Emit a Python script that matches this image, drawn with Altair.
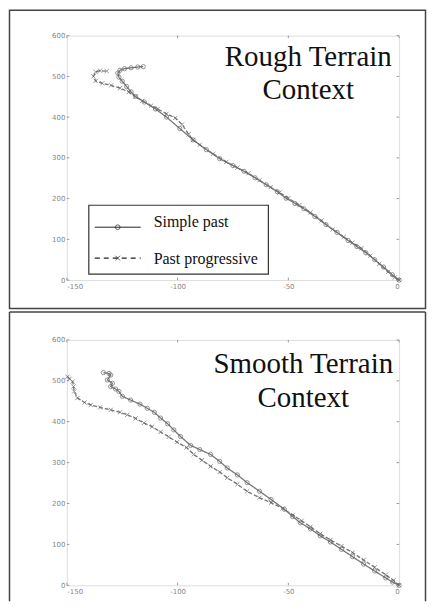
import altair as alt
import pandas as pd

# ---------------- data ----------------
series_names = ["Simple past", "Past progressive"]

rough_sp_x = [0, -3, -7, -11, -15, -19, -23, -28, -33, -38, -43, -47, -51, -55, -60, -65, -70, -75, -81, -87,
              -93, -99, -105, -110, -115, -119, -121, -123, -125, -126.5, -127, -126, -124, -121, -118, -115.5]
rough_sp_y = [0, 13, 32, 50, 67, 82, 97, 117, 136, 156, 175, 188, 201, 217, 234, 251, 267, 281, 298, 320,
              344, 372, 400, 420, 437, 451, 462, 475, 488, 498, 508, 515, 519, 521, 523, 524]

rough_pp_x = [0, -2, -5, -9, -13, -17, -21, -25, -30, -35, -40, -45, -50, -54, -58, -63, -68, -73, -78, -84,
              -90, -93, -95, -98, -101, -105, -109, -112, -116, -119, -122, -126, -130, -134, -137, -138, -137,
              -135, -132]
rough_pp_y = [0, 6, 20, 40, 60, 78, 92, 106, 124, 146, 166, 184, 201, 215, 228, 245, 262, 276, 290, 310,
              332, 344, 358, 382, 398, 408, 420, 428, 440, 450, 462, 471, 478, 483, 489, 500, 511, 514, 513]

smooth_sp_x = [-133.5, -131, -130.2, -131.7, -129.4, -130.2, -128, -126.5, -124.9, -121.2, -117, -113.7, -110.5,
               -107.7, -104.5, -101.7, -98.7, -94.1, -90, -85.1, -81, -77.6, -73, -68.6, -63, -57.8, -51.8, -48,
               -44.6, -40, -35.6, -31, -26, -21, -16, -11, -6, -2.9, 0]
smooth_sp_y = [520, 518, 514, 502, 494, 486, 480, 474, 462, 453, 443, 433, 423, 409, 395, 380, 364, 342, 332, 320,
               303, 287, 270, 251, 230, 210, 186, 168, 153, 138, 121, 106, 88, 70, 52, 35, 18, 8, 0]

smooth_pp_x = [-149.7, -148.8, -147.4, -147, -146.7, -145.2, -142, -139.2, -135, -130.2, -126, -122.7, -119,
               -115.2, -111.5, -107.7, -104, -100.2, -96, -92.7, -89, -85.1, -81, -77.6, -73, -68.6, -63, -57.8,
               -52.5, -48, -44, -40, -35.6, -31, -26, -21, -16, -11, -6, -2.5, 0]
smooth_pp_y = [510, 505, 498, 486, 474, 458, 447, 441, 435, 429, 423, 417, 408, 397, 388, 375, 363, 350, 337, 320,
               306, 291, 277, 263, 247, 230, 214, 202, 188, 172, 158, 143, 126, 111, 96, 80, 62, 44, 26, 12, 0]

x_ticks = [-150, -100, -50, 0]
y_ticks = [0, 100, 200, 300, 400, 500, 600]

rough_title = ["Rough Terrain", "Context"]
smooth_title = ["Smooth Terrain", "Context"]

# ---------------- helpers ----------------
W = 333
X_SHAPE = "M-1,-1L1,1M-1,1L1,-1"
FRAME_L, FRAME_R = -57.5, 359.5


def make_df(sp_x, sp_y, pp_x, pp_y):
    rows = []
    for i, (a, b) in enumerate(zip(sp_x, sp_y)):
        rows.append({"x": a, "y": b, "series": series_names[0], "idx": i})
    for i, (a, b) in enumerate(zip(pp_x, pp_y)):
        rows.append({"x": a, "y": b, "series": series_names[1], "idx": i})
    return pd.DataFrame(rows)


def panel(df, title_lines, H, frame_y, frame_y2, closed, title_cx, title_base, with_legend):
    xs = alt.Scale(domain=[-150, 0], nice=False, zero=False)
    ys = alt.Scale(domain=[0, 600], nice=False)
    xaxis = alt.Axis(values=x_ticks, tickSize=0, domain=False, grid=False, labelFontSize=7,
                     labelColor="#888", labelPadding=2, title=None, labelExpr="'' + datum.value",
                     labelFont="DejaVu Sans")
    yaxis = alt.Axis(values=y_ticks, tickSize=0, domain=False, grid=False, labelFontSize=7,
                     labelColor="#888", labelPadding=2, title=None, labelFont="DejaVu Sans")
    one = pd.DataFrame({"a": [0]})

    if closed:
        frame = [alt.Chart(one).mark_rect(fillOpacity=0, stroke="#444", strokeWidth=1.5).encode(
            x=alt.value(FRAME_L), x2=alt.value(FRAME_R), y=alt.value(frame_y), y2=alt.value(frame_y2))]
    else:
        frame = [
            alt.Chart(one).mark_rule(color="#444", strokeWidth=1.5).encode(
                x=alt.value(FRAME_L), x2=alt.value(FRAME_R), y=alt.value(frame_y)),
            alt.Chart(one).mark_rule(color="#444", strokeWidth=1.5).encode(
                x=alt.value(FRAME_L), y=alt.value(frame_y), y2=alt.value(frame_y2)),
            alt.Chart(one).mark_rule(color="#444", strokeWidth=1.5).encode(
                x=alt.value(FRAME_R), y=alt.value(frame_y), y2=alt.value(frame_y2)),
        ]

    xt = pd.DataFrame({"v": x_ticks})
    yt = pd.DataFrame({"v": y_ticks})
    tick_b = alt.Chart(xt).mark_rule(color="#999", strokeWidth=1).encode(
        x=alt.X("v:Q", scale=xs, axis=xaxis), y=alt.value(H), y2=alt.value(H - 2.5))
    tick_t = alt.Chart(xt).mark_rule(color="#999", strokeWidth=1).encode(
        x=alt.X("v:Q", scale=xs), y=alt.value(0), y2=alt.value(2.5))
    tick_l = alt.Chart(yt).mark_rule(color="#999", strokeWidth=1).encode(
        y=alt.Y("v:Q", scale=ys, axis=yaxis), x=alt.value(0), x2=alt.value(2.5))
    tick_r = alt.Chart(yt).mark_rule(color="#999", strokeWidth=1).encode(
        y=alt.Y("v:Q", scale=ys), x=alt.value(W), x2=alt.value(W - 2.5))

    lines = alt.Chart(df).mark_line(strokeWidth=1.3, color="#777").encode(
        x=alt.X("x:Q", scale=xs),
        y=alt.Y("y:Q", scale=ys),
        detail="series:N",
        order="idx:Q",
        strokeDash=alt.StrokeDash("series:N", scale=alt.Scale(domain=series_names, range=[[1, 0], [4, 2]]),
                                  legend=None),
    )
    pts = alt.Chart(df).mark_point(size=18, filled=False, strokeWidth=1, color="#666").encode(
        x=alt.X("x:Q", scale=xs),
        y=alt.Y("y:Q", scale=ys),
        shape=alt.Shape("series:N", scale=alt.Scale(domain=series_names, range=["circle", X_SHAPE]),
                        legend=None),
    )

    layers = frame + [tick_b, tick_t, tick_l, tick_r, lines, pts]

    for k, txt in enumerate(title_lines):
        layers.append(alt.Chart(one).mark_text(text=txt, font="Liberation Serif", fontSize=29, color="#111",
                                               align="center", baseline="alphabetic").encode(
            x=alt.value(title_cx), y=alt.value(title_base + 34 * k)))

    if with_legend:
        layers.append(alt.Chart(one).mark_rect(fill="white", stroke="#333", strokeWidth=1.2).encode(
            x=alt.value(22), x2=alt.value(202), y=alt.value(170), y2=alt.value(239)))
        layers.append(alt.Chart(one).mark_rule(color="#222", strokeWidth=1).encode(
            x=alt.value(28), x2=alt.value(74), y=alt.value(192)))
        layers.append(alt.Chart(one).mark_rule(color="#222", strokeWidth=1.2, strokeDash=[5, 4]).encode(
            x=alt.value(28), x2=alt.value(74), y=alt.value(223)))
        layers.append(alt.Chart(one).mark_point(shape="circle", size=22, filled=False, color="#222",
                                                strokeWidth=1).encode(x=alt.value(51), y=alt.value(192)))
        layers.append(alt.Chart(one).mark_point(shape=X_SHAPE, size=22, filled=False, color="#222",
                                                strokeWidth=1).encode(x=alt.value(51), y=alt.value(223)))
        for lab, yb in zip(series_names, [192, 229]):
            layers.append(alt.Chart(one).mark_text(text=lab, font="Liberation Serif", fontSize=16,
                                                   color="#111", align="left", baseline="alphabetic").encode(
                x=alt.value(87), y=alt.value(yb)))

    return alt.layer(*layers).properties(width=W, height=H)


top = panel(make_df(rough_sp_x, rough_sp_y, rough_pp_x, rough_pp_y), rough_title, 245,
            -25.5, 273.5, True, 242, 30, True)
bottom = panel(make_df(smooth_sp_x, smooth_sp_y, smooth_pp_x, smooth_pp_y), smooth_title, 246,
               -28, 262, False, 237, 33, False)

chart = alt.vconcat(top, bottom, spacing=0).properties(padding=0).configure_view(
    stroke="#999", strokeWidth=1).configure(background="white")

chart.save("out.html", embed_options={"renderer": "svg", "actions": False})
